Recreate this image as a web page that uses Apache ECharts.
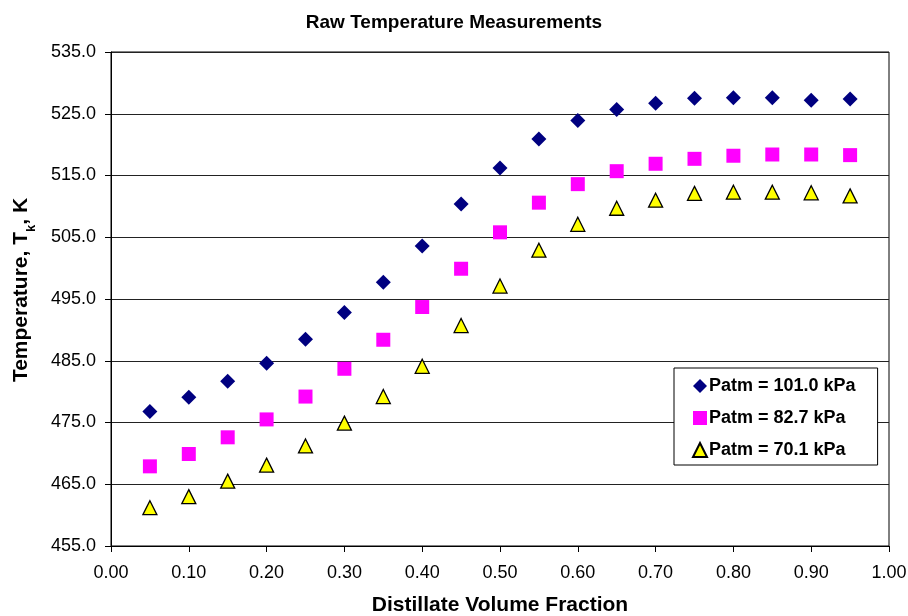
<!DOCTYPE html>
<html><head><meta charset="utf-8">
<script src="https://cdn.jsdelivr.net/npm/echarts@6/dist/echarts.min.js"></script>
<style>html,body{margin:0;padding:0;background:#fff}#c{width:908px;height:616px}</style>
</head><body><div id="c"></div>
<script>
const xFractions = [0.05,0.10,0.15,0.20,0.25,0.30,0.35,0.40,0.45,0.50,0.55,0.60,0.65,0.70,0.75,0.80,0.85,0.90,0.95];
const temps101 = [476.8,479.1,481.7,484.6,488.5,492.8,497.7,503.6,510.4,516.2,520.9,523.9,525.7,526.7,527.5,527.6,527.6,527.2,527.4];
const temps827 = [467.9,469.9,472.6,475.5,479.2,483.7,488.4,493.7,499.9,505.8,510.6,513.6,515.7,516.9,517.7,518.2,518.4,518.4,518.3];
const temps701 = [461.2,463.0,465.5,468.1,471.2,474.9,479.2,484.1,490.7,497.1,502.9,507.1,509.7,511.0,512.1,512.3,512.3,512.2,511.7];
const seriesNames = ['Patm = 101.0 kPa','Patm = 82.7 kPa','Patm = 70.1 kPa'];

const F = 'Liberation Sans, Arial, sans-serif';
const pairs = a => xFractions.map((x,i)=>[x,a[i]]);
const chart = echarts.init(document.getElementById('c'));
chart.setOption({
  animation:false,
  backgroundColor:'#fff',
  title:{text:'Raw Temperature Measurements',left:'center',top:8,
    textStyle:{fontFamily:F,fontSize:19,fontWeight:'bold',color:'#000'}},
  grid:{left:111,right:19,top:52,bottom:70,show:true,borderColor:'#000',borderWidth:1,backgroundColor:'#fff',
    containLabel:false,outerBoundsMode:'none'},
  legend:{orient:'vertical',left:674,top:368,
    backgroundColor:'#fff',borderColor:'#000',borderWidth:1,padding:[8,22,5,18],
    itemGap:12,itemWidth:14,itemHeight:14,
    textStyle:{fontFamily:F,fontSize:18,fontWeight:'bold',color:'#000',lineHeight:20,padding:[0,0,0,-3]},
    data:seriesNames},
  xAxis:{type:'value',min:0,max:1,interval:0.1,
    name:'Distillate Volume Fraction',nameLocation:'middle',nameGap:49,
    nameTextStyle:{fontFamily:F,fontSize:21,fontWeight:'bold',color:'#000'},
    axisLine:{lineStyle:{color:'#000',width:1}},
    axisTick:{show:true,inside:false,length:6,lineStyle:{color:'#000'}},
    axisLabel:{fontFamily:F,fontSize:18,color:'#000',margin:18,formatter:v=>v.toFixed(2)},
    splitLine:{show:false}},
  yAxis:{type:'value',min:455,max:535,interval:10,
    name:'{b|Temperature, T}{s|k}{b|, K}',nameLocation:'middle',nameGap:79,
    nameTextStyle:{padding:[0,0,0,18],rich:{
      b:{fontFamily:F,fontSize:21,fontWeight:'bold',color:'#000',lineHeight:26,verticalAlign:'bottom'},
      s:{fontFamily:F,fontSize:13,fontWeight:'bold',color:'#000',lineHeight:26,verticalAlign:'bottom',padding:[0,0,-6,0]}}},
    axisLine:{show:true,lineStyle:{color:'#000',width:1}},
    axisTick:{show:true,inside:false,length:6,lineStyle:{color:'#000'}},
    axisLabel:{fontFamily:F,fontSize:18,color:'#000',margin:15,formatter:v=>v.toFixed(1)},
    splitLine:{show:true,lineStyle:{color:'#222',width:1}}},
  series:[
    {name:seriesNames[0],type:'scatter',data:pairs(temps101),symbol:'diamond',symbolSize:15,
      itemStyle:{color:'#000080',opacity:1}},
    {name:seriesNames[1],type:'scatter',data:pairs(temps827),symbol:'rect',symbolSize:14,
      itemStyle:{color:'#FF00FF',opacity:1}},
    {name:seriesNames[2],type:'scatter',data:pairs(temps701),symbol:'triangle',symbolSize:14,
      itemStyle:{color:'#FFFF00',borderColor:'#000',borderWidth:1.3,opacity:1}}
  ]
});
</script></body></html>
